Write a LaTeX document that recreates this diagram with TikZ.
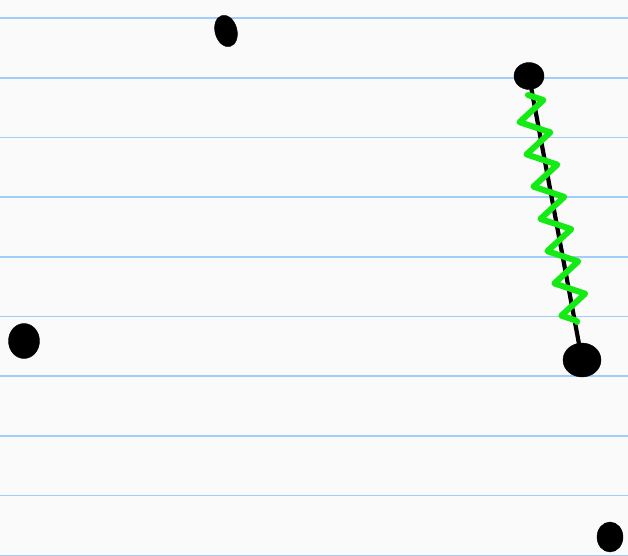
\documentclass[tikz,border=0pt]{standalone}
\usetikzlibrary{shapes.geometric,decorations.pathmorphing}

\begin{document}
\begin{tikzpicture}[
  x=1pt, y=-1pt,
  rule/.style={draw={rgb,255:red,160;green,205;blue,250}, line width=1.6pt},
  dot/.style={ellipse, fill=black, draw=black, inner sep=0pt},
  bar/.style={line width=4.2pt, black},
  spring/.style={draw={rgb,255:red,20;green,235;blue,20}, line width=6pt, line cap=round, line join=round,
    decorate, decoration={zigzag, segment length=33pt, amplitude=14pt}}
]
\useasboundingbox (0,0) rectangle (628,555);
\fill[white!98!black] (0,0) rectangle (628,555);

% ruled paper
\foreach \k in {0,...,9}
  \draw[rule] (0,{18+59.7*\k}) -- (628,{18+59.7*\k});

\node[dot, minimum width=22pt, minimum height=32pt, rotate=15] (d1) at (226,31) {};
\node[dot, minimum width=30pt, minimum height=27pt] (d2) at (529,76) {};
\node[dot, minimum width=31pt, minimum height=35pt] (d3) at (24,341) {};
\node[dot, minimum width=38pt, minimum height=34pt] (d4) at (582,360) {};
\node[dot, minimum width=26pt, minimum height=30pt] (d5) at (610,537) {};

\draw[bar] (d2.center) -- (d4.center);

\coordinate (s1) at (528,95);
\coordinate (s2) at (577,322);
\draw[spring] (s1) -- (s2);

\end{tikzpicture}
\end{document}
